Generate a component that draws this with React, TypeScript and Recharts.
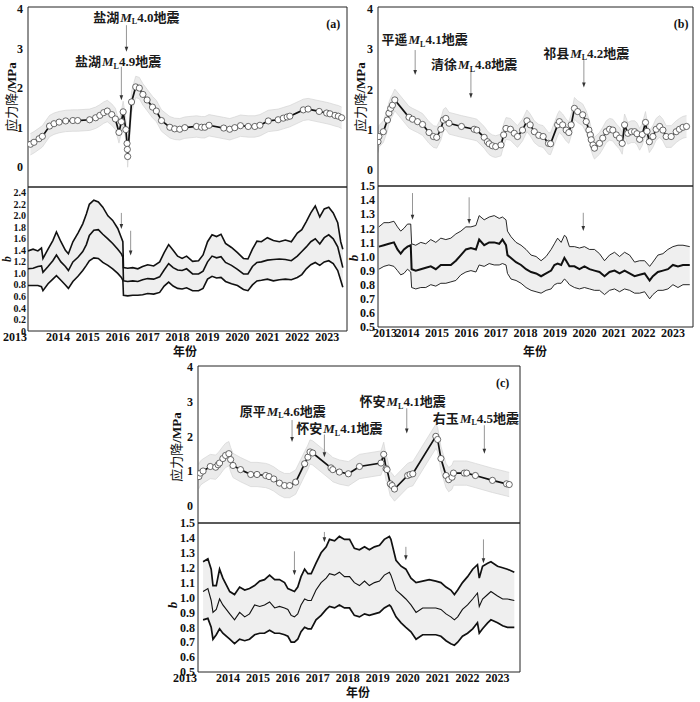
import React from "react";
import { ComposedChart, Area, Line, XAxis, YAxis, ReferenceLine, ReferenceDot } from "recharts";

// ---------------------------------------------------------------------------
// Shared ticks
// ---------------------------------------------------------------------------

const YEAR_TICKS = [2013, 2014, 2015, 2016, 2017, 2018, 2019, 2020, 2021, 2022, 2023];
const SD_TICKS = [0, 1, 2, 3, 4];
const B_TICKS_A = [0, 0.2, 0.4, 0.6, 0.8, 1.0, 1.2, 1.4, 1.6, 1.8, 2.0, 2.2, 2.4];
const B_TICKS = [0.5, 0.6, 0.7, 0.8, 0.9, 1.0, 1.1, 1.2, 1.3, 1.4, 1.5];

// ---------------------------------------------------------------------------
// (a) stress drop + b value
// ---------------------------------------------------------------------------

const A_SD_YEARS = [
  2013.08, 2013.2, 2013.37, 2013.48, 2013.72, 2013.87, 2014.04, 2014.26, 2014.5, 2014.66,
  2015.06, 2015.26, 2015.4, 2015.53, 2015.65, 2015.8, 2015.92, 2016.04, 2016.12, 2016.18,
  2016.27, 2016.31, 2016.32, 2016.33, 2016.46, 2016.6, 2016.72, 2016.84, 2016.98, 2017.16,
  2017.29, 2017.46, 2017.74, 2017.9, 2018.07, 2018.24, 2018.63, 2018.8, 2018.91, 2019.05,
  2019.54, 2019.74, 2019.91, 2020.1, 2020.36, 2020.58, 2020.75, 2021.03, 2021.36, 2021.53,
  2021.66, 2021.75, 2022.2, 2022.36, 2022.73, 2022.98, 2023.09, 2023.26, 2023.37, 2023.48,
];
const A_SD = [
  0.58, 0.63, 0.72, 0.78, 1.04, 1.1, 1.14, 1.17, 1.18, 1.18,
  1.2, 1.25, 1.31, 1.38, 1.42, 1.33, 1.22, 0.88, 1.15, 1.4,
  0.95, 0.6, 0.45, 0.27, 1.65, 2.03, 2.0, 1.84, 1.7, 1.52,
  1.42, 1.18, 1.01, 0.97, 0.96, 1.0, 1.03, 1.01, 1.01, 1.06,
  0.99, 0.96, 1.0, 1.05, 1.03, 1.03, 1.06, 1.17, 1.2, 1.24,
  1.27, 1.29, 1.45, 1.47, 1.41, 1.37, 1.35, 1.31, 1.29, 1.25,
];
const A_SD_ERR = 0.27;

const A_B_YEARS = [
  2013.0, 2013.17, 2013.33, 2013.45, 2013.5, 2013.67, 2013.83, 2013.95, 2014.1, 2014.25,
  2014.35, 2014.5, 2014.67, 2014.83, 2014.95, 2015.05, 2015.2, 2015.35, 2015.5, 2015.67,
  2015.83, 2016.0, 2016.12, 2016.17, 2016.19, 2016.33, 2016.5, 2016.67, 2016.83, 2017.0,
  2017.2, 2017.4, 2017.55, 2017.7, 2017.85, 2018.0, 2018.15, 2018.3, 2018.5, 2018.7,
  2018.85, 2019.0, 2019.15, 2019.3, 2019.45, 2019.6, 2019.8, 2020.0, 2020.2, 2020.35,
  2020.5, 2020.65, 2020.8, 2021.0, 2021.2, 2021.4, 2021.6, 2021.8, 2022.0, 2022.15,
  2022.3, 2022.45, 2022.6, 2022.75, 2022.9, 2023.05, 2023.2, 2023.35, 2023.45, 2023.52,
];
const A_B_HI = [
  1.39, 1.42, 1.39, 1.44, 1.26, 1.42, 1.57, 1.72, 1.55, 1.4,
  1.34, 1.55, 1.7, 1.86, 2.03, 2.2, 2.27, 2.24, 2.15, 2.0,
  1.92, 1.78, 1.62, 1.55, 1.1, 1.09, 1.1, 1.08, 1.12, 1.15,
  1.13, 1.2, 1.36, 1.5, 1.4, 1.3, 1.26, 1.3, 1.21, 1.22,
  1.32, 1.55, 1.67, 1.64, 1.68, 1.52, 1.45, 1.36, 1.26, 1.25,
  1.42, 1.56, 1.55, 1.62, 1.57, 1.55, 1.58, 1.55, 1.7, 1.76,
  1.9, 2.05, 2.17, 1.98, 2.12, 2.15, 2.05, 1.88, 1.55, 1.42,
];
const A_B_MID = [
  1.08, 1.09, 1.12, 1.13, 1.02, 1.12, 1.22, 1.32, 1.2, 1.12,
  1.05, 1.2, 1.28, 1.38, 1.5, 1.66, 1.75, 1.76, 1.68, 1.6,
  1.52, 1.42, 1.34, 1.28, 0.87, 0.86, 0.87, 0.86, 0.89, 0.91,
  0.9, 0.94, 1.06, 1.17, 1.1, 1.06, 1.05, 1.08, 0.99, 0.99,
  1.04, 1.2, 1.3, 1.27, 1.29, 1.19, 1.14, 1.07, 0.99, 0.99,
  1.12, 1.19, 1.2, 1.23, 1.24, 1.25, 1.24, 1.22, 1.3, 1.38,
  1.46, 1.55, 1.6, 1.51, 1.62, 1.67, 1.6, 1.46, 1.25, 1.1,
];
const A_B_LO = [
  0.79, 0.79, 0.79, 0.77, 0.7, 0.82, 0.9, 0.96, 0.88, 0.8,
  0.74, 0.86, 0.95, 1.05, 1.14, 1.22, 1.27, 1.26, 1.19, 1.14,
  1.08, 1.0, 0.93, 0.88, 0.62, 0.61, 0.62, 0.62, 0.63, 0.65,
  0.64, 0.67, 0.78, 0.85, 0.78, 0.74, 0.73, 0.75, 0.7, 0.7,
  0.74, 0.9, 0.95, 0.92, 0.93, 0.86, 0.82, 0.79, 0.72, 0.7,
  0.8, 0.87, 0.88, 0.9, 0.87, 0.89, 0.9, 0.89, 0.93, 0.98,
  1.08, 1.15, 1.19, 1.14, 1.2, 1.22, 1.17, 1.05, 0.88, 0.76,
];

const A_QUAKES = [
  { place: "盐湖", mag: "4.0", x: 2016.62, y: 3.79, ax: 2016.29, from: 3.59, to: 2.92 },
  { place: "盐湖", mag: "4.9", x: 2016.01, y: 2.66, ax: 2016.12, from: 2.54, to: 1.69 },
];
const A_B_ARROWS = [
  { x: 2016.12, from: 2.05, to: 1.77 },
  { x: 2016.43, from: 1.74, to: 1.31 },
];

// ---------------------------------------------------------------------------
// (b)
// ---------------------------------------------------------------------------

const B_SD_YEARS = [
  2013.0, 2013.03, 2013.18, 2013.32, 2013.37, 2013.43, 2013.49, 2013.57, 2014.05, 2014.17,
  2014.34, 2014.51, 2014.73, 2014.88, 2014.99, 2015.13, 2015.22, 2015.3, 2015.41, 2015.83,
  2016.26, 2016.35, 2016.6, 2016.71, 2016.77, 2016.88, 2016.99, 2017.17, 2017.26, 2017.34,
  2017.49, 2017.62, 2017.73, 2017.9, 2018.05, 2018.16, 2018.3, 2018.45, 2018.6, 2018.78,
  2018.85, 2019.09, 2019.15, 2019.26, 2019.38, 2019.47, 2019.55, 2019.66, 2019.77, 2019.94,
  2020.06, 2020.15, 2020.2, 2020.23, 2020.29, 2020.34, 2020.51, 2020.62, 2020.74, 2020.85,
  2020.96, 2021.08, 2021.19, 2021.28, 2021.36, 2021.47, 2021.59, 2021.7, 2021.78, 2021.87,
  2021.96, 2022.07, 2022.12, 2022.2, 2022.32, 2022.43, 2022.55, 2022.66, 2022.77, 2022.94,
  2023.11, 2023.22, 2023.34, 2023.46,
];
const B_SD = [
  0.7, 0.83, 0.95, 1.24, 1.41, 1.53, 1.61, 1.74, 1.31, 1.26,
  1.2, 1.13, 0.93, 0.83, 0.81, 1.01, 1.24, 1.28, 1.16, 1.08,
  1.01, 0.99, 0.81, 0.7, 0.65, 0.6, 0.58, 0.62, 0.87, 1.03,
  1.01, 0.91, 0.83, 0.99, 1.22, 1.12, 0.95, 0.86, 0.83, 0.66,
  0.65, 1.12, 1.2, 1.12, 0.99, 0.93, 1.12, 1.53, 1.45, 1.37,
  1.2, 0.99, 0.87, 0.75, 0.62, 0.54, 0.66, 0.79, 0.95, 1.01,
  0.99, 0.87, 0.79, 0.66, 1.12, 0.91, 0.95, 0.95, 0.9, 0.76,
  0.88, 1.18, 0.96, 0.7, 0.83, 1.01, 1.08, 0.99, 0.83, 0.83,
  0.95, 1.01, 1.06, 1.08,
];
const B_SD_ERR = 0.27;

const B_B_YEARS = [
  2013.03, 2013.2, 2013.37, 2013.54, 2013.66, 2013.77, 2013.88, 2014.0, 2014.11, 2014.14,
  2014.28, 2014.45, 2014.62, 2014.79, 2014.96, 2015.13, 2015.3, 2015.47, 2015.64, 2015.81,
  2015.98, 2016.15, 2016.32, 2016.43, 2016.6, 2016.77, 2016.94, 2017.11, 2017.22, 2017.34,
  2017.39, 2017.51, 2017.68, 2017.85, 2018.02, 2018.19, 2018.36, 2018.53, 2018.7, 2018.87,
  2018.98, 2019.09, 2019.21, 2019.32, 2019.38, 2019.49, 2019.66, 2019.83, 2020.0, 2020.17,
  2020.34, 2020.51, 2020.68, 2020.85, 2021.02, 2021.19, 2021.36, 2021.53, 2021.7, 2021.87,
  2022.04, 2022.21, 2022.32, 2022.49, 2022.66, 2022.83, 2023.0, 2023.17, 2023.34, 2023.57,
];
const B_B_HI = [
  1.21, 1.24, 1.24, 1.25, 1.21, 1.18, 1.2, 1.23, 1.23, 1.09,
  1.08, 1.1, 1.09, 1.12, 1.1, 1.13, 1.12, 1.13, 1.16, 1.18,
  1.21, 1.21, 1.22, 1.29, 1.26, 1.28, 1.29, 1.27, 1.28, 1.26,
  1.18, 1.14, 1.1, 1.08, 1.05, 1.01, 1.0, 0.97, 1.0, 1.05,
  1.09, 1.13, 1.1, 1.15, 1.14, 1.07, 1.07, 1.06, 1.07, 1.05,
  1.05, 1.02, 0.97, 1.01, 1.03, 1.0, 1.03, 1.01, 0.96, 0.97,
  0.97, 0.93, 0.96, 1.01, 1.02, 1.05, 1.07, 1.08, 1.08, 1.07,
];
const B_B_MID = [
  1.07, 1.08, 1.09, 1.1, 1.05, 1.02, 1.05, 1.07, 1.08, 0.91,
  0.9, 0.91, 0.92, 0.93, 0.91, 0.94, 0.94, 0.94, 0.97, 1.01,
  1.05, 1.06, 1.05, 1.12, 1.08, 1.1, 1.1, 1.09, 1.12, 1.08,
  1.01, 0.99, 0.96, 0.94, 0.91, 0.89, 0.88, 0.86, 0.88, 0.9,
  0.94, 0.95, 0.94, 0.99, 0.97, 0.93, 0.93, 0.91, 0.93, 0.91,
  0.9, 0.89, 0.86, 0.89, 0.9, 0.88, 0.9, 0.88, 0.86, 0.87,
  0.88, 0.83, 0.86, 0.89, 0.9, 0.91, 0.94, 0.93, 0.94, 0.94,
];
const B_B_LO = [
  0.91, 0.93, 0.94, 0.93, 0.9, 0.87, 0.88, 0.91, 0.89, 0.78,
  0.77, 0.78, 0.78, 0.8, 0.79, 0.81, 0.81, 0.82, 0.83, 0.87,
  0.89, 0.9, 0.89, 0.94, 0.93, 0.95, 0.94, 0.94, 0.95, 0.94,
  0.88, 0.84, 0.83, 0.81, 0.78, 0.76, 0.75, 0.74, 0.76, 0.77,
  0.8, 0.81, 0.81, 0.84, 0.83, 0.8, 0.78, 0.77, 0.78, 0.77,
  0.76, 0.76, 0.73, 0.76, 0.77, 0.75, 0.77, 0.76, 0.74, 0.74,
  0.75, 0.7, 0.73, 0.76, 0.76, 0.77, 0.8, 0.78, 0.8, 0.8,
];

const B_QUAKES = [
  { place: "平遥", mag: "4.1", x: 2014.58, y: 3.23, ax: 2014.26, from: 2.98, to: 2.36 },
  { place: "清徐", mag: "4.8", x: 2016.26, y: 2.61, ax: 2016.15, from: 2.44, to: 1.78 },
  { place: "祁县", mag: "4.2", x: 2020.06, y: 2.9, ax: 2019.98, from: 2.73, to: 2.05 },
];
const B_B_ARROWS = [
  { x: 2014.17, from: 1.45, to: 1.26 },
  { x: 2016.09, from: 1.42, to: 1.23 },
  { x: 2019.96, from: 1.31, to: 1.18 },
];

// ---------------------------------------------------------------------------
// (c)
// ---------------------------------------------------------------------------

const C_SD_YEARS = [
  2013.03, 2013.08, 2013.17, 2013.41, 2013.59, 2013.67, 2013.72, 2013.83, 2013.92, 2014.03,
  2014.09, 2014.17, 2014.42, 2014.76, 2014.97, 2015.26, 2015.37, 2015.53, 2015.72, 2015.89,
  2016.06, 2016.26, 2016.56, 2016.67, 2016.74, 2016.83, 2017.44, 2017.5, 2017.72, 2018.02,
  2018.39, 2019.11, 2019.2, 2019.28, 2019.31, 2019.42, 2019.48, 2019.56, 2020.0, 2020.08,
  2020.17, 2020.94, 2021.0, 2021.11, 2021.28, 2021.37, 2021.48, 2021.53, 2021.89, 2021.97,
  2022.26, 2022.83, 2023.3, 2023.39,
];
const C_SD = [
  0.84, 0.94, 1.0, 1.13, 1.11, 1.18, 1.23, 1.36, 1.45, 1.5,
  1.33, 1.16, 1.04, 0.9, 0.9, 0.87, 0.84, 0.77, 0.65, 0.58,
  0.58, 0.68, 1.21, 1.4, 1.55, 1.52, 1.09, 1.04, 0.97, 0.92,
  1.13, 1.23, 1.48, 1.07, 1.04, 0.63, 0.58, 0.48, 0.87, 0.9,
  0.92, 2.0, 1.91, 1.36, 0.87, 0.75, 0.82, 0.94, 0.94, 0.94,
  0.87, 0.73, 0.63, 0.61,
];
const C_SD_ERR = 0.35;

const C_B_YEARS = [
  2013.17, 2013.33, 2013.44, 2013.5, 2013.61, 2013.72, 2013.83, 2014.06, 2014.22, 2014.39,
  2014.56, 2014.72, 2014.89, 2015.06, 2015.22, 2015.39, 2015.56, 2015.72, 2015.89, 2016.0,
  2016.11, 2016.22, 2016.33, 2016.44, 2016.56, 2016.67, 2016.78, 2016.94, 2017.11, 2017.28,
  2017.39, 2017.56, 2017.72, 2017.89, 2018.06, 2018.22, 2018.39, 2018.56, 2018.72, 2018.89,
  2019.06, 2019.22, 2019.39, 2019.44, 2019.61, 2019.78, 2019.94, 2020.11, 2020.28, 2020.5,
  2020.72, 2020.94, 2021.11, 2021.28, 2021.44, 2021.56, 2021.67, 2021.83, 2022.0, 2022.17,
  2022.33, 2022.39, 2022.5, 2022.67, 2022.78, 2023.0, 2023.17, 2023.33, 2023.56,
];
const C_B_HI = [
  1.24, 1.26, 1.19, 1.08, 1.08, 1.19, 1.13, 1.04, 1.02, 1.07,
  1.05, 1.06, 1.08, 1.11, 1.12, 1.15, 1.12, 1.12, 1.1, 1.06,
  1.05, 1.04, 1.07, 1.14, 1.19, 1.16, 1.16, 1.23, 1.3, 1.34,
  1.39, 1.38, 1.41, 1.39, 1.39, 1.33, 1.32, 1.34, 1.32, 1.34,
  1.35, 1.39, 1.41, 1.39, 1.25, 1.21, 1.19, 1.13, 1.1, 1.11,
  1.12, 1.11, 1.1, 1.07, 1.05, 1.02, 1.05, 1.1, 1.14, 1.19,
  1.22, 1.13, 1.21, 1.23, 1.24, 1.21, 1.2, 1.19, 1.17,
];
const C_B_MID = [
  1.04, 1.06, 0.98, 0.9, 0.92, 0.99, 0.95, 0.89, 0.85, 0.9,
  0.87, 0.89, 0.95, 0.94, 0.95, 0.97, 0.93, 0.94, 0.93, 0.92,
  0.88, 0.87, 0.89, 0.95, 0.99, 0.98, 0.98, 1.05, 1.1, 1.13,
  1.16, 1.15, 1.17, 1.14, 1.14, 1.1, 1.08, 1.11, 1.08, 1.1,
  1.11, 1.15, 1.17, 1.15, 1.05, 1.02, 0.99, 0.95, 0.9, 0.93,
  0.93, 0.93, 0.92, 0.89, 0.87, 0.85, 0.87, 0.92, 0.95, 0.99,
  1.03, 0.94, 0.99, 1.02, 1.04, 1.01, 0.99, 0.99, 0.98,
];
const C_B_LO = [
  0.85, 0.86, 0.8, 0.72, 0.75, 0.79, 0.76, 0.72, 0.69, 0.72,
  0.71, 0.72, 0.75, 0.76, 0.76, 0.78, 0.76, 0.76, 0.75, 0.74,
  0.7, 0.7, 0.72, 0.77, 0.8, 0.79, 0.79, 0.85, 0.88, 0.92,
  0.94, 0.93, 0.95, 0.93, 0.93, 0.88, 0.87, 0.89, 0.88, 0.89,
  0.9, 0.93, 0.95, 0.94, 0.87, 0.83, 0.8, 0.77, 0.72, 0.75,
  0.75, 0.75, 0.74, 0.71, 0.69, 0.68, 0.7, 0.74, 0.76, 0.79,
  0.83, 0.76, 0.79, 0.83, 0.85, 0.83, 0.81, 0.8, 0.8,
];

const C_QUAKES = [
  { place: "原平", mag: "4.6", x: 2015.83, y: 2.73, ax: 2016.14, from: 2.47, to: 1.84 },
  { place: "怀安", mag: "4.1", x: 2017.72, y: 2.22, ax: 2017.22, from: 2.05, to: 1.4 },
  { place: "怀安", mag: "4.1", x: 2019.83, y: 3.0, ax: 2019.97, from: 2.81, to: 2.08 },
  { place: "右玉", mag: "4.5", x: 2022.28, y: 2.52, ax: 2022.56, from: 2.32, to: 1.5 },
];
const C_B_ARROWS = [
  { x: 2016.22, from: 1.31, to: 1.15 },
  { x: 2017.22, from: 1.44, to: 1.37 },
  { x: 2019.94, from: 1.34, to: 1.25 },
  { x: 2022.53, from: 1.39, to: 1.23 },
];

// ---------------------------------------------------------------------------
// Row builders
// ---------------------------------------------------------------------------

function stressRows(years: number[], values: number[], err: number) {
  return years.map((year, i) => ({ year, value: values[i], band: [values[i] - err, values[i] + err] }));
}

function bRows(years: number[], lo: number[], mid: number[], hi: number[]) {
  return years.map((year, i) => ({ year, lo: lo[i], mid: mid[i], hi: hi[i], band: [lo[i], hi[i]] }));
}

// ---------------------------------------------------------------------------
// Styling helpers
// ---------------------------------------------------------------------------

const SERIF = "'Liberation Serif', 'Times New Roman', serif";
const CJK = "'Noto Sans CJK SC', sans-serif";
const FRAME = { stroke: "#222", strokeWidth: 1 };
const TICK = { fontFamily: SERIF, fontWeight: 700, fontSize: 12, fill: "#111" };

const AXIS_W = 30;
const PAD = 8;
const X_AXIS_H = 16;

type Quake = { place: string; mag: string; x: number; y: number; ax: number; from: number; to: number };
type Arrow = { x: number; from: number; to: number };

function QuakeLabel({ cx, cy, place, mag }: { cx: number; cy: number; place: string; mag: string }) {
  return (
    <text x={cx} y={cy + 4.5} textAnchor="middle" fontSize={13} fill="#1a1a1a">
      <tspan fontFamily={CJK} fontWeight={700}>{place}</tspan>
      <tspan fontFamily={SERIF} fontStyle="italic" fontWeight={700} dx={1}>M</tspan>
      <tspan fontFamily={SERIF} fontWeight={700} fontSize={8} dy={2.5}>L</tspan>
      <tspan fontFamily={SERIF} fontWeight={700} dy={-2.5}>{mag}</tspan>
      <tspan fontFamily={CJK} fontWeight={700}>地震</tspan>
    </text>
  );
}

function arrowShape(p: any) {
  const { x1, y1, x2, y2 } = p;
  return (
    <g>
      <line x1={x1} y1={y1} x2={x2} y2={y2 - 4} stroke="#8a8a8a" strokeWidth={0.9} />
      <path d={`M${x2 - 1.8},${y2 - 5} L${x2 + 1.8},${y2 - 5} L${x2},${y2} Z`} fill="#333" />
    </g>
  );
}

function frameAxes(xMax: number) {
  return [
    <XAxis key="ft" xAxisId="frame" orientation="top" type="number" domain={[2013, xMax]} mirror tick={false} tickLine={false} axisLine={FRAME} />,
    <YAxis key="fr" yAxisId="frame" orientation="right" type="number" domain={[0, 1]} mirror tick={false} tickLine={false} axisLine={FRAME} />,
  ];
}

// year tick, the first label nudged sideways as in the original figure
function yearTick(firstDx: number) {
  return (p: any) => (
    <text
      x={p.x + (p.payload.value === 2013 ? firstDx : 0)}
      y={p.y}
      dy="0.71em"
      textAnchor="middle"
      fontFamily={SERIF}
      fontWeight={700}
      fontSize={12}
      fill="#111"
    >
      {p.payload.value}
    </text>
  );
}

// ---------------------------------------------------------------------------
// Charts
// ---------------------------------------------------------------------------

interface StressProps {
  left: number;
  top: number;
  plotW: number;
  plotH: number;
  rows: ReturnType<typeof stressRows>;
  yDomain: [number, number];
  xMax: number;
  quakes: Quake[];
  tag: string;
  tagX: number;
  tagY: number;
}

function StressChart({ left, top, plotW, plotH, rows, yDomain, xMax, quakes, tag, tagX, tagY }: StressProps) {
  return (
    <div style={{ position: "absolute", left: left - AXIS_W, top: top - PAD }}>
      <ComposedChart
        width={AXIS_W + plotW + 4}
        height={plotH + 2 * PAD}
        data={rows}
        margin={{ top: PAD, right: 4, bottom: PAD, left: 0 }}
      >
        {frameAxes(xMax)}
        <XAxis
          dataKey="year"
          type="number"
          domain={[2013, xMax]}
          allowDataOverflow
          ticks={YEAR_TICKS}
          interval={0}
          mirror
          tick={false}
          tickSize={5}
          tickLine={{ stroke: "#222" }}
          axisLine={FRAME}
        />
        <YAxis
          type="number"
          domain={yDomain}
          allowDataOverflow
          ticks={SD_TICKS}
          interval={0}
          width={AXIS_W}
          tickSize={0}
          tickMargin={5}
          tick={TICK}
          tickLine={false}
          axisLine={FRAME}
        />
        <Area
          type="linear"
          dataKey="band"
          fill="#ebebeb"
          fillOpacity={1}
          stroke="#d4d4d4"
          strokeWidth={0.7}
          isAnimationActive={false}
          activeDot={false}
        />
        <Line
          type="linear"
          dataKey="value"
          stroke="#111"
          strokeWidth={1.7}
          dot={{ r: 3.1, fill: "#fff", stroke: "#444", strokeWidth: 0.8 }}
          activeDot={false}
          isAnimationActive={false}
        />
        {quakes.map((q, i) => (
          <ReferenceLine
            key={"qa" + i}
            segment={[{ x: q.ax, y: q.from }, { x: q.ax, y: q.to }]}
            shape={arrowShape}
          />
        ))}
        {quakes.map((q, i) => (
          <ReferenceDot
            key={"ql" + i}
            x={q.x}
            y={q.y}
            r={0}
            shape={(p: any) => <QuakeLabel cx={p.cx} cy={p.cy} place={q.place} mag={q.mag} />}
          />
        ))}
        <ReferenceDot
          x={tagX}
          y={tagY}
          r={0}
          shape={(p: any) => (
            <text x={p.cx} y={p.cy + 4} textAnchor="middle" fontFamily={SERIF} fontWeight={700} fontSize={12} fill="#111">
              {tag}
            </text>
          )}
        />
      </ComposedChart>
    </div>
  );
}

interface BProps {
  left: number;
  top: number;
  plotW: number;
  plotH: number;
  rows: ReturnType<typeof bRows>;
  yDomain: [number, number];
  yTicks: number[];
  yTickSize: number;
  yTickMargin: number;
  xMax: number;
  arrows: Arrow[];
  edgeWidth: number;
  midWidth: number;
  firstDx: number;
}

function BValueChart({
  left, top, plotW, plotH, rows, yDomain, yTicks, yTickSize, yTickMargin, xMax, arrows, edgeWidth, midWidth, firstDx,
}: BProps) {
  return (
    <div style={{ position: "absolute", left: left - AXIS_W, top: top - PAD }}>
      <ComposedChart
        width={AXIS_W + plotW + 4}
        height={PAD + plotH + X_AXIS_H}
        data={rows}
        margin={{ top: PAD, right: 4, bottom: 0, left: 0 }}
      >
        {frameAxes(xMax)}
        <XAxis
          dataKey="year"
          type="number"
          domain={[2013, xMax]}
          allowDataOverflow
          ticks={YEAR_TICKS}
          interval={0}
          height={X_AXIS_H}
          tickSize={0}
          tickMargin={1}
          tick={yearTick(firstDx)}
          tickLine={false}
          axisLine={FRAME}
        />
        <YAxis
          type="number"
          domain={yDomain}
          allowDataOverflow
          ticks={yTicks}
          interval={0}
          width={AXIS_W}
          tickSize={0}
          tickMargin={yTickMargin}
          tick={{ ...TICK, fontSize: yTickSize }}
          tickFormatter={(v: number) => (v === 0 ? "0" : v.toFixed(1))}
          tickLine={false}
          axisLine={FRAME}
        />
        <Area
          type="linear"
          dataKey="band"
          fill="#efefef"
          fillOpacity={1}
          stroke="none"
          isAnimationActive={false}
          activeDot={false}
        />
        <Line type="linear" dataKey="hi" stroke="#111" strokeWidth={edgeWidth} dot={false} activeDot={false} isAnimationActive={false} />
        <Line type="linear" dataKey="lo" stroke="#111" strokeWidth={edgeWidth} dot={false} activeDot={false} isAnimationActive={false} />
        <Line type="linear" dataKey="mid" stroke="#111" strokeWidth={midWidth} dot={false} activeDot={false} isAnimationActive={false} />
        {arrows.map((a, i) => (
          <ReferenceLine key={"ba" + i} segment={[{ x: a.x, y: a.from }, { x: a.x, y: a.to }]} shape={arrowShape} />
        ))}
      </ComposedChart>
    </div>
  );
}

function Title({ x, y, rotate, lh = 12, children }: { x: number; y: number; rotate?: boolean; lh?: number; children: React.ReactNode }) {
  return (
    <div
      style={{
        position: "absolute",
        left: x,
        top: y,
        transform: `translate(-50%, -50%)${rotate ? " rotate(-90deg)" : ""}`,
        whiteSpace: "nowrap",
        fontSize: 12,
        lineHeight: `${lh}px`,
        color: "#111",
      }}
    >
      {children}
    </div>
  );
}

const SdTitle = () => (
  <>
    <span style={{ fontFamily: CJK, fontSize: 13 }}>应力降</span>
    <span style={{ fontFamily: SERIF, fontWeight: 700, fontSize: 13 }}>/MPa</span>
  </>
);
const BTitle = ({ size = 13 }: { size?: number }) => (
  <span style={{ fontFamily: SERIF, fontWeight: 700, fontStyle: "italic", fontSize: size }}>b</span>
);
const YearTitle = () => <span style={{ fontFamily: CJK, fontWeight: 700 }}>年份</span>;

// ---------------------------------------------------------------------------
// App
// ---------------------------------------------------------------------------

export default function App() {
  const aTop = stressRows(A_SD_YEARS, A_SD, A_SD_ERR);
  const aBot = bRows(A_B_YEARS, A_B_LO, A_B_MID, A_B_HI);
  const bTop = stressRows(B_SD_YEARS, B_SD, B_SD_ERR);
  const bBot = bRows(B_B_YEARS, B_B_LO, B_B_MID, B_B_HI);
  const cTop = stressRows(C_SD_YEARS, C_SD, C_SD_ERR);
  const cBot = bRows(C_B_YEARS, C_B_LO, C_B_MID, C_B_HI);

  return (
    <div style={{ position: "absolute", left: 0, top: 0, width: 700, height: 702, background: "#fff", overflow: "hidden" }}>
      <StressChart left={28} top={7} plotW={319} plotH={180} rows={aTop} yDomain={[-0.5, 4.05]} xMax={2023.66}
        quakes={A_QUAKES} tag="(a)" tagX={2023.2} tagY={3.62} />
      <BValueChart left={28} top={187} plotW={319} plotH={144} rows={aBot} yDomain={[0, 2.5]} yTicks={B_TICKS_A}
        yTickSize={10} yTickMargin={2} xMax={2023.66} arrows={A_B_ARROWS} edgeWidth={1.6} midWidth={1.6} firstDx={-13} />

      <StressChart left={378} top={7} plotW={315} plotH={179} rows={bTop} yDomain={[-0.4, 4.05]} xMax={2023.68}
        quakes={B_QUAKES} tag="(b)" tagX={2023.28} tagY={3.63} />
      <BValueChart left={378} top={186} plotW={315} plotH={141} rows={bBot} yDomain={[0.5, 1.5]} yTicks={B_TICKS}
        yTickSize={12} yTickMargin={3} xMax={2023.68} arrows={B_B_ARROWS} edgeWidth={0.9} midWidth={2} firstDx={7} />

      <StressChart left={198} top={366} plotW={322} plotH={157} rows={cTop} yDomain={[-0.5, 4.03]} xMax={2023.75}
        quakes={C_QUAKES} tag="(c)" tagX={2023.17} tagY={3.54} />
      <BValueChart left={198} top={523} plotW={322} plotH={149} rows={cBot} yDomain={[0.5, 1.5]} yTicks={B_TICKS}
        yTickSize={12} yTickMargin={3} xMax={2023.75} arrows={C_B_ARROWS} edgeWidth={1.7} midWidth={1.1} firstDx={-13} />

      <Title x={11} y={97} rotate><SdTitle /></Title>
      <Title x={7} y={259} rotate lh={9}><BTitle size={11.5} /></Title>
      <Title x={185} y={351}><YearTitle /></Title>

      <Title x={360} y={97} rotate><SdTitle /></Title>
      <Title x={354} y={258} rotate lh={9}><BTitle /></Title>
      <Title x={535} y={351}><YearTitle /></Title>

      <Title x={176} y={447} rotate><SdTitle /></Title>
      <Title x={173} y={605} rotate lh={9}><BTitle /></Title>
      <Title x={358} y={692}><YearTitle /></Title>
    </div>
  );
}
